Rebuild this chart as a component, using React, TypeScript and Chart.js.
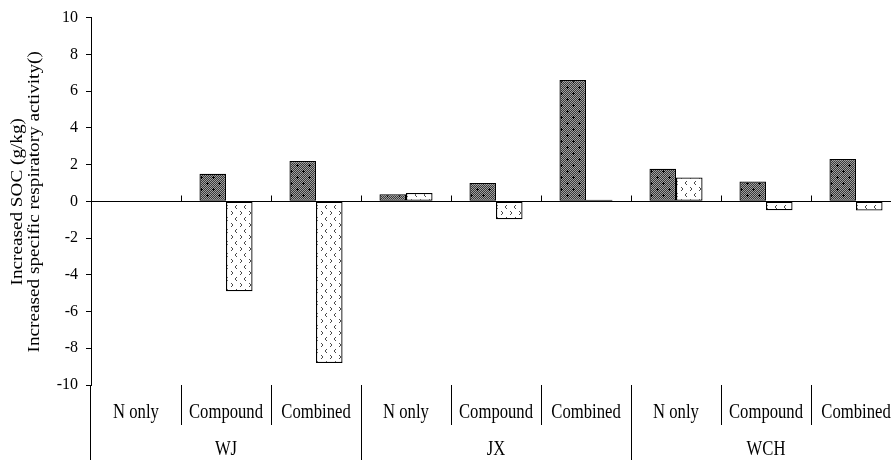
import { useEffect, useRef } from "react";
import { Chart, registerables } from "chart.js";

Chart.register(...registerables);

const regions = ["WJ", "JX", "WCH"];
const treatments = ["N only", "Compound", "Combined"];
const categories = regions.flatMap(() => treatments);
const socValues: (number | null)[] = [null, 1.5, 2.2, 0.38, 1.0, 6.6, 1.77, 1.08, 2.3];
const respValues: (number | null)[] = [null, -4.9, -8.8, 0.45, -0.98, 0.08, 1.3, -0.49, -0.5];
const yMin = -10;
const yMax = 10;
const yStep = 2;
const yTitleLines = ["Increased SOC (g/kg)", "Increased specific respiratory activity()"];

const FONT = "'Liberation Serif', 'Times New Roman', serif";

function makeDarkPattern(ctx: CanvasRenderingContext2D): CanvasPattern | string {
  const c = document.createElement("canvas");
  c.width = 12;
  c.height = 12;
  const g = c.getContext("2d");
  if (!g) return "#666";
  for (let y = 0; y < 12; y++) {
    for (let x = 0; x < 12; x++) {
      g.fillStyle = (x + y) % 2 ? "#383838" : "#a0a0a0";
      g.fillRect(x, y, 1, 1);
    }
  }
  g.fillStyle = "#000";
  const crosses = [
    [3, 3],
    [9, 9],
  ];
  for (const [cx, cy] of crosses) {
    g.fillRect(cx - 1, cy, 3, 1);
    g.fillRect(cx, cy - 1, 1, 3);
  }
  return ctx.createPattern(c, "repeat") || "#666";
}

function makeLightPattern(ctx: CanvasRenderingContext2D): CanvasPattern | string {
  const W = 9;
  const Hh = 12;
  const c = document.createElement("canvas");
  c.width = W;
  c.height = Hh;
  const g = c.getContext("2d");
  if (!g) return "#fff";
  g.fillStyle = "#fff";
  g.fillRect(0, 0, W, Hh);
  g.fillStyle = "#4a4a4a";
  const lt = [
    [1, 0],
    [0, 1],
    [0, 2],
    [1, 3],
  ];
  const gt = [
    [0, 0],
    [1, 1],
    [1, 2],
    [0, 3],
  ];
  const put = (glyph: number[][], ox: number, oy: number) => {
    for (const [px, py] of glyph) g.fillRect((ox + px) % W, (oy + py) % Hh, 1, 1);
  };
  put(lt, 1, 1);
  put(gt, 6, 7);
  return ctx.createPattern(c, "repeat") || "#fff";
}

const decorPlugin = {
  id: "decor",
  afterDraw(chart: any) {
    const ctx: CanvasRenderingContext2D = chart.ctx;
    const xs = chart.scales.x;
    const ys = chart.scales.y;
    const area = chart.chartArea;
    const H = chart.height;
    const n = categories.length;
    ctx.save();
    ctx.strokeStyle = "#000";
    ctx.lineWidth = 1;

    // zero line with upward tick marks at category boundaries
    const y0 = Math.round(ys.getPixelForValue(0)) + 0.5;
    ctx.beginPath();
    ctx.moveTo(area.left, y0);
    ctx.lineTo(area.right, y0);
    const half = (xs.getPixelForValue(1) - xs.getPixelForValue(0)) / 2;
    for (let i = 0; i < n; i++) {
      const bx = Math.round(xs.getPixelForValue(i) + half) + 0.5;
      ctx.moveTo(bx, y0);
      ctx.lineTo(bx, y0 - 6);
    }
    // y axis extension through the category area
    const ax = Math.round(area.left) - 0.5;
    ctx.moveTo(ax, area.bottom);
    ctx.lineTo(ax, H);
    // separators
    for (let i = 1; i < n; i++) {
      const bx = Math.round(xs.getPixelForValue(i) - half) + 0.5;
      const isGroup = i % treatments.length === 0;
      ctx.moveTo(bx, area.bottom);
      ctx.lineTo(bx, isGroup ? H : area.bottom + 40);
    }
    ctx.stroke();

    // category labels
    ctx.fillStyle = "#000";
    ctx.textAlign = "center";
    ctx.textBaseline = "middle";
    ctx.font = `17px ${FONT}`;
    for (let i = 0; i < n; i++) {
      ctx.save();
      ctx.translate(xs.getPixelForValue(i), area.bottom + 28);
      ctx.scale(0.98, 1.18);
      ctx.fillText(categories[i], 0, 0);
      ctx.restore();
    }
    // group labels
    regions.forEach((r, gi) => {
      const first = xs.getPixelForValue(gi * treatments.length);
      const last = xs.getPixelForValue(gi * treatments.length + treatments.length - 1);
      ctx.save();
      ctx.translate((first + last) / 2, area.bottom + 65);
      ctx.scale(0.98, 1.18);
      ctx.fillText(r, 0, 0);
      ctx.restore();
    });

    // y-axis title (two lines, rotated)
    ctx.font = `16px ${FONT}`;
    const cy = (area.top + area.bottom) / 2 + 0.5;
    const lineX = [18, 35];
    yTitleLines.forEach((t, li) => {
      ctx.save();
      ctx.translate(lineX[li], cy);
      ctx.rotate(-Math.PI / 2);
      ctx.scale(1.2, 1);
      ctx.fillText(t, 0, 0);
      ctx.restore();
    });
    ctx.restore();
  },
};

export default function App() {
  const ref = useRef<HTMLCanvasElement | null>(null);
  useEffect(() => {
    const canvas = ref.current;
    if (!canvas) return;
    const ctx = canvas.getContext("2d");
    if (!ctx) return;
    const dark = makeDarkPattern(ctx);
    const light = makeLightPattern(ctx);
    const chart = new Chart(canvas, {
      type: "bar",
      data: {
        labels: categories,
        datasets: [
          {
            label: "Increased SOC (g/kg)",
            data: socValues as any,
            backgroundColor: dark as any,
            borderColor: "#000",
            borderWidth: 1.3,
            borderSkipped: false,
            categoryPercentage: 0.59,
            barPercentage: 1,
          },
          {
            label: "Increased specific respiratory activity",
            data: respValues as any,
            backgroundColor: light as any,
            borderColor: "#000",
            borderWidth: 1.3,
            borderSkipped: false,
            categoryPercentage: 0.59,
            barPercentage: 1,
          },
        ],
      },
      options: {
        responsive: false,
        animation: false,
        devicePixelRatio: 1,
        layout: { padding: { top: 16, bottom: 75, left: 0, right: 1 } },
        plugins: { legend: { display: false }, tooltip: { enabled: false } },
        scales: {
          x: { display: false },
          y: {
            min: yMin,
            max: yMax,
            afterFit(scale: any) {
              scale.width = 91;
            },
            ticks: {
              stepSize: yStep,
              color: "#000",
              padding: 8,
              font: { family: FONT, size: 16 },
            },
            grid: { drawOnChartArea: false, drawTicks: true, tickLength: 5, color: "#000" },
            border: { display: true, color: "#000", width: 1 },
          },
        },
      },
      plugins: [decorPlugin],
    });
    return () => chart.destroy();
  }, []);
  return (
    <div
      style={{
        position: "fixed",
        left: 0,
        top: 0,
        width: 891,
        height: 460,
        overflow: "hidden",
        background: "#fff",
      }}
    >
      <canvas ref={ref} width={902} height={460} style={{ display: "block" }} />
    </div>
  );
}
